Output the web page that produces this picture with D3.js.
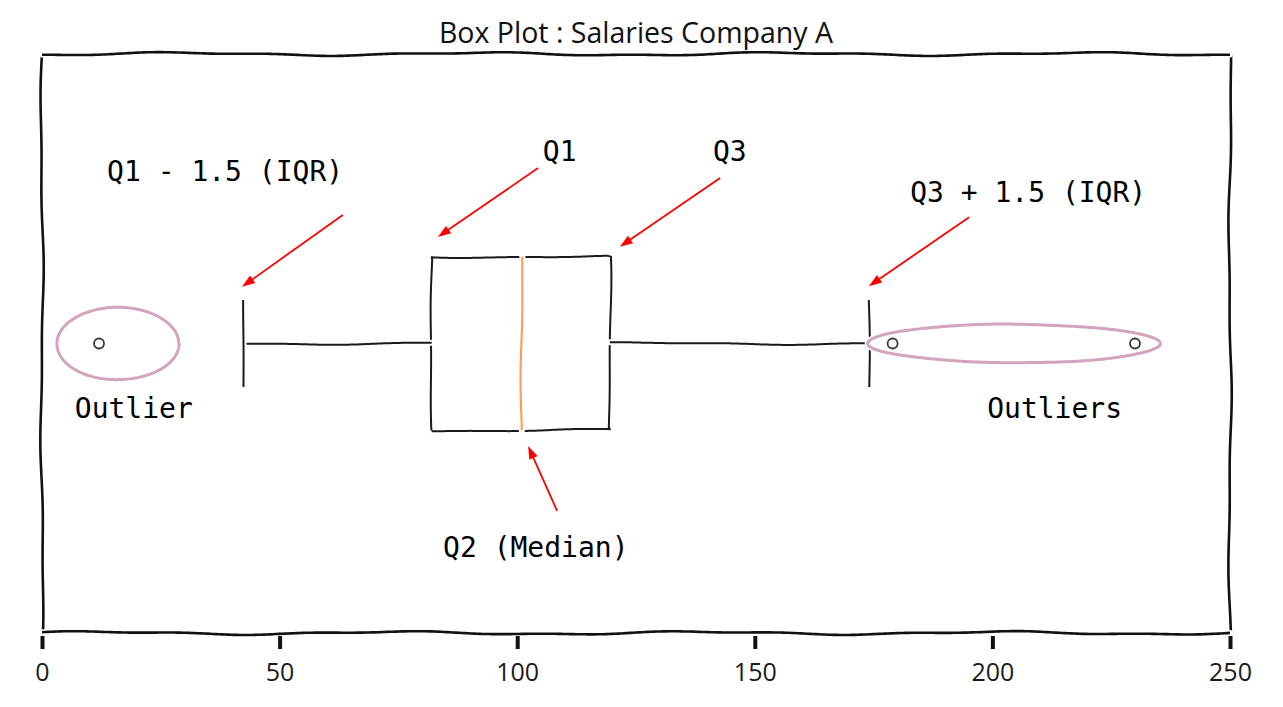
<!DOCTYPE html>
<html><head><meta charset="utf-8">
<script src="https://cdn.jsdelivr.net/npm/d3@7"></script>
<style>html,body{margin:0;padding:0;background:#fff;overflow:hidden}</style>
</head><body><svg id="chart" width="1283" height="707"></svg>
<script>
// ---------- data ----------
const title = "Box Plot : Salaries Company A";
const xTicks = [0, 50, 100, 150, 200, 250];
const whiskers = [42.5, 174];          // low / high whisker ends
const quartiles = [82, 101, 119.5];    // Q1, median, Q3
const outliers = [12, 179, 230];
const annotationLabels = ["Q1 - 1.5 (IQR)", "Q1", "Q3", "Q3 + 1.5 (IQR)", "Q2 (Median)"];
const annotationText = [[13.7, 1.28], [105.4, 1.315], [141.2, 1.315], [182.7, 1.244], [84.4, 0.631]];
const arrowFrom = [[63.3, 1.222], [104.4, 1.303], [142.7, 1.286], [195.1, 1.218], [108.4, 0.711]];
const arrowTo = [[42.1, 1.098], [83.3, 1.184], [121.6, 1.167], [174.0, 1.099], [102.3, 0.823]];
const outlierLabels = ["Outlier", "Outliers"];
const outlierLabelPos = [[6.9, 0.871], [198.9, 0.871]];
const ellipseCenters = [[16.05, 1.0], [204.6, 1.0]];
const ellipseSizes = [[25.7, 0.125], [61.7, 0.066]];

// ---------- setup ----------
const svg = d3.select("#chart");
const x = d3.scaleLinear().domain([0, 250]).range([42, 1230]);
const y = d3.scaleLinear().domain([0.5, 1.5]).range([633, 54]);
const boxPos = 1, boxW = 0.3, capW = 0.15;

const line = d3.line().curve(d3.curveLinear);

// deterministic hand-drawn wiggle
function sketch(pts, seed, amp = 1.3) {
  const out = [];
  let s = 0;
  for (let i = 0; i < pts.length - 1; i++) {
    const [x0, y0] = pts[i], [x1, y1] = pts[i + 1];
    const len = Math.hypot(x1 - x0, y1 - y0);
    if (len === 0) continue;
    const nx = -(y1 - y0) / len, ny = (x1 - x0) / len;
    const n = Math.max(1, Math.ceil(len / 3));
    for (let k = 0; k <= n; k++) {
      if (k === 0 && i > 0) continue;
      const t = k / n;
      const ss = s + t * len;
      const off = amp * (0.75 * Math.sin(ss / 48 + seed) + 0.35 * Math.sin(ss / 19 + seed * 2.7));
      out.push([x0 + (x1 - x0) * t + nx * off, y0 + (y1 - y0) * t + ny * off]);
    }
    s += len;
  }
  return out;
}

function drawSketch(g, pts, color, width, seed, amp = 1.3, under = 4) {
  const p = sketch(pts, seed, amp);
  const d = line(p);
  g.append("path").attr("d", d).attr("fill", "none").attr("stroke", "#fff")
    .attr("stroke-width", width + under).attr("stroke-linecap", "round");
  g.append("path").attr("d", d).attr("fill", "none").attr("stroke", color)
    .attr("stroke-width", width).attr("stroke-linecap", "butt").attr("stroke-linejoin", "round");
}

const g = svg.append("g");

// ---------- box ----------
const bt = y(boxPos + boxW / 2), bb = y(boxPos - boxW / 2);
drawSketch(g, [[x(quartiles[0]), bb], [x(quartiles[2]), bb], [x(quartiles[2]), bt],
  [x(quartiles[0]), bt], [x(quartiles[0]), bb]], "#1a1a1a", 2, 1.1, 1.4);

// whiskers
drawSketch(g, [[x(quartiles[0]), y(boxPos)], [x(whiskers[0]), y(boxPos)]], "#1a1a1a", 2, 2.3, 1.3);
drawSketch(g, [[x(quartiles[2]), y(boxPos)], [x(whiskers[1]), y(boxPos)]], "#1a1a1a", 2, 4.1, 1.3);
// caps
const ct = y(boxPos + capW / 2), cb = y(boxPos - capW / 2);
drawSketch(g, [[x(whiskers[0]), ct], [x(whiskers[0]), cb]], "#1a1a1a", 2, 0.7, 1.0);
drawSketch(g, [[x(whiskers[1]), ct], [x(whiskers[1]), cb]], "#1a1a1a", 2, 3.3, 1.0);
// median
drawSketch(g, [[x(quartiles[1]), bt], [x(quartiles[1]), bb]], "#f7a15c", 2.2, 5.2, 1.3);

// fliers
g.selectAll("circle.flier").data(outliers).enter().append("circle")
  .attr("class", "flier").attr("cx", d => x(d)).attr("cy", y(boxPos)).attr("r", 5)
  .attr("fill", "none").attr("stroke", "#3a3a3a").attr("stroke-width", 1.8);

// ---------- ellipses ----------
ellipseCenters.forEach((c, i) => {
  const cx = x(c[0]), cy = y(c[1]);
  const rx = (x(ellipseSizes[i][0]) - x(0)) / 2, ry = (y(0.5) - y(0.5 + ellipseSizes[i][1])) / 2;
  const pts = d3.range(0, 121).map(k => {
    const a = k / 120 * 2 * Math.PI;
    return [cx + rx * Math.cos(a), cy + ry * Math.sin(a)];
  });
  drawSketch(g, pts, "#d4a3bd", 3, 1.7 + i, 0.5, 3);
});

// ---------- annotations ----------
const monoFont = "'DejaVu Sans Mono', 'Liberation Mono', monospace";
annotationLabels.forEach((lab, i) => {
  g.append("text").attr("x", x(annotationText[i][0])).attr("y", y(annotationText[i][1]))
    .attr("font-family", monoFont).attr("font-size", 28).attr("fill", "#000").text(lab);
  const x0 = x(arrowFrom[i][0]), y0 = y(arrowFrom[i][1]);
  const x1 = x(arrowTo[i][0]), y1 = y(arrowTo[i][1]);
  const len = Math.hypot(x1 - x0, y1 - y0);
  const ux = (x1 - x0) / len, uy = (y1 - y0) / len;
  const hl = 13, hw = 4.5;
  const bx = x1 - ux * hl, by = y1 - uy * hl;
  g.append("line").attr("x1", x0).attr("y1", y0).attr("x2", bx + ux * 2).attr("y2", by + uy * 2)
    .attr("stroke", "#ff0000").attr("stroke-width", 1.8);
  g.append("path").attr("d", `M${x1},${y1}L${bx - uy * hw},${by + ux * hw}L${bx + uy * hw},${by - ux * hw}Z`)
    .attr("fill", "#ff0000");
});
outlierLabels.forEach((lab, i) => {
  g.append("text").attr("x", x(outlierLabelPos[i][0])).attr("y", y(outlierLabelPos[i][1]))
    .attr("font-family", monoFont).attr("font-size", 28).attr("fill", "#000").text(lab);
});

// ---------- frame / axis ----------
const x0p = x(0), x1p = x(250), ytop = y(1.5), ybot = y(0.5);
drawSketch(g, [[x0p, ybot], [x0p, ytop]], "#111", 2.6, 0.4, 1.6, 3);
drawSketch(g, [[x1p, ybot], [x1p, ytop]], "#111", 2.6, 2.9, 1.6, 3);
drawSketch(g, [[x0p, ytop], [x1p, ytop]], "#111", 2.6, 1.9, 1.8, 3);
drawSketch(g, [[x0p, ybot], [x1p, ybot]], "#111", 2.6, 3.6, 1.8, 3);

const axisG = svg.append("g").attr("transform", `translate(0,${ybot + 3})`);
const xAxis = d3.axisBottom(x).tickValues(xTicks).tickSize(13).tickPadding(14).tickFormat(d3.format("d"));
axisG.call(xAxis);
axisG.select(".domain").remove();
axisG.selectAll(".tick line").attr("stroke", "#111").attr("stroke-width", 4);
axisG.selectAll(".tick text").attr("font-family", "'Open Sans', sans-serif").attr("font-size", 25)
  .attr("fill", "#1a1a1a");

// ---------- title ----------
svg.append("text").attr("x", (x0p + x1p) / 2).attr("y", 43).attr("text-anchor", "middle")
  .attr("font-family", "'Open Sans', sans-serif").attr("font-size", 28.5).attr("fill", "#111")
  .text(title);
</script></body></html>
